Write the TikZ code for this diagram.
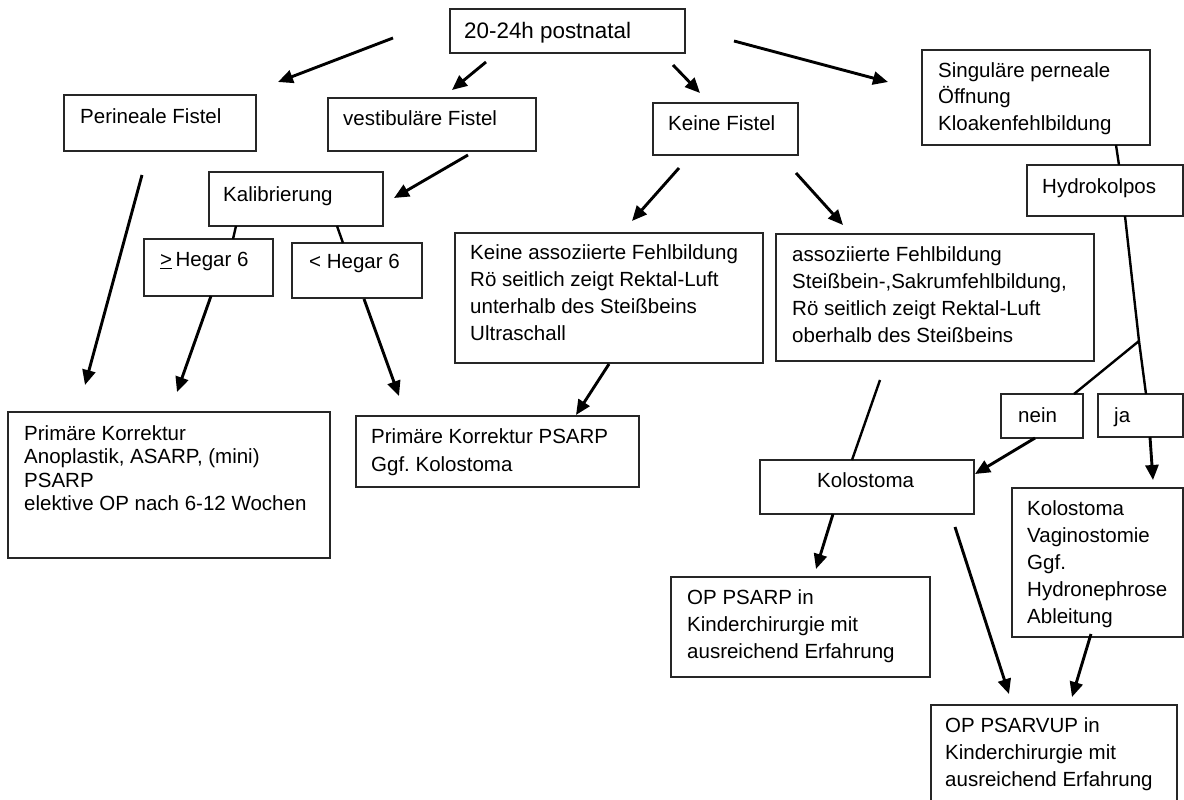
\documentclass[tikz,border=0pt]{standalone}
\usepackage{fontspec}
\setmainfont{Liberation Sans}
\usetikzlibrary{arrows.meta,fit}
\frenchspacing
\begin{document}
\begin{tikzpicture}[x=1pt,y=-1pt,
  box/.style={draw=black!85, line width=1.3pt, inner sep=0pt},
  txt/.style={anchor=north west, inner sep=0pt, align=left, text=black,
    font=\fontsize{20.5}{27}\selectfont},
  arr/.style={line width=2.9pt, -{Triangle[length=15pt,width=13pt]}},
  ln/.style={line width=2.4pt}]
\useasboundingbox (0,0) rectangle (1184,800);
\fill[white] (0,0) rectangle (1184,800);

% boxes
\node[box, fit={(450,9) (685,53)}] (b20) {};
\node[box, fit={(64,95) (256,151)}] (perin) {};
\node[box, fit={(328,98) (536,151)}] (vest) {};
\node[box, fit={(209,172) (383,226)}] (kal) {};
\node[box, fit={(144,239) (273,296)}] (hge) {};
\node[box, fit={(292,243) (422,298)}] (hlt) {};
\node[box, fit={(653,103) (798,155)}] (kf) {};
\node[box, fit={(922,50) (1150,145)}] (sing) {};
\node[box, fit={(1027,165) (1183,216)}] (hydro) {};
\node[box, fit={(455,233) (763,363)}] (kaf) {};
\node[box, fit={(776,234) (1094,361)}] (af) {};
\node[box, fit={(8,412) (330,558)}] (pk) {};
\node[box, fit={(356,416) (639,487)}] (pkp) {};
\node[box, fit={(1001,394) (1083,438)}] (nein) {};
\node[box, fit={(1098,394) (1183,437)}] (ja) {};
\node[box, fit={(760,460) (974,514)}] (kol) {};
\node[box, fit={(1012,488) (1183,637)}] (kolv) {};
\node[box, fit={(671,577) (930,677)}] (opp) {};
\node[box, fit={(931,705) (1177,803)}] (oppv) {};

% texts
\node[txt, font=\fontsize{22.4}{27}\selectfont] (t20) at (464,22.5) {20-24h postnatal};
\node[txt] (tperin) at (80,108) {Perineale Fistel};
\node[txt] (tvest) at (343,110) {vestibuläre Fistel};
\node[txt] (tkal) at (223,186) {Kalibrierung};
\node[txt] (thge) at (160,252) {\underline{>}\,Hegar 6};
\node[txt] (thlt) at (309,254) {< Hegar 6};
\node[txt] (tkf) at (668,115) {Keine Fistel};
\node[txt, font=\fontsize{20.5}{26.5}\selectfont] (tsing) at (938,62) {Singuläre perneale\\Öffnung\\Kloakenfehlbildung};
\node[txt] (thydro) at (1042,178) {Hydrokolpos};
\node[txt] (tkaf) at (470,244) {Keine assoziierte Fehlbildung\\Rö seitlich zeigt Rektal-Luft\\unterhalb des Steißbeins\\Ultraschall};
\node[txt] (taf) at (792,246) {assoziierte Fehlbildung\\Steißbein-,Sakrumfehlbildung,\\Rö seitlich zeigt Rektal-Luft\\oberhalb des Steißbeins};
\node[txt, font=\fontsize{20.5}{23.5}\selectfont] (tpk) at (24,425) {Primäre Korrektur\\Anoplastik, ASARP, (mini)\\PSARP\\elektive OP nach 6-12 Wochen};
\node[txt, font=\fontsize{20.5}{28}\selectfont] (tpkp) at (371,428) {Primäre Korrektur PSARP\\Ggf. Kolostoma};
\node[txt] (tnein) at (1018,407) {nein};
\node[txt] (tja) at (1114,407) {ja};
\node[txt] (tkol) at (817,472) {Kolostoma};
\node[txt] (tkolv) at (1027,500) {Kolostoma\\Vaginostomie\\Ggf.\\Hydronephrose\\Ableitung};
\node[txt] (topp) at (687,589) {OP PSARP in\\Kinderchirurgie mit\\ausreichend Erfahrung};
\node[txt] (toppv) at (945,717) {OP PSARVUP in\\Kinderchirurgie mit\\ausreichend Erfahrung};

% connector end points
\coordinate (a1s) at (393,38);   \coordinate (a1e) at (278,82);
\coordinate (a2s) at (486,62);   \coordinate (a2e) at (452,90);
\coordinate (a3s) at (673,65);   \coordinate (a3e) at (700,93);
\coordinate (a4s) at (734,41);   \coordinate (a4e) at (888,82);
\coordinate (a5s) at (468,155);  \coordinate (a5e) at (394,198);
\coordinate (a6s) at (142,175);  \coordinate (a6e) at (85,385);
\coordinate (l1s) at (236,226);  \coordinate (l1e) at (233,239);
\coordinate (l2s) at (337,226);  \coordinate (l2e) at (343,243);
\coordinate (a7s) at (211,296);  \coordinate (a7e) at (177,392);
\coordinate (a8s) at (364,299);  \coordinate (a8e) at (399,396);
\coordinate (a9s) at (679,168);  \coordinate (a9e) at (632,221);
\coordinate (a10s) at (796,173); \coordinate (a10e) at (843,225);
\coordinate (a11s) at (609,364); \coordinate (a11e) at (576,415);
\coordinate (l3s) at (1116,145); \coordinate (l3e) at (1119,165);
\coordinate (l4s) at (1125,216); \coordinate (br) at (1139,341); \coordinate (l4e) at (1146,394);
\coordinate (l5e) at (1074,394);
\coordinate (a12s) at (1035,438); \coordinate (a12e) at (975,474);
\coordinate (a13s) at (1150,437); \coordinate (a13e) at (1153,480);
\coordinate (l6s) at (880,380);  \coordinate (l6e) at (852,460);
\coordinate (a14s) at (833,514); \coordinate (a14e) at (816,569);
\coordinate (a15s) at (955,527); \coordinate (a15e) at (1009,694);
\coordinate (a16s) at (1091,634); \coordinate (a16e) at (1072,697);

% connectors
\draw[arr] (a1s) -- (a1e);
\draw[arr] (a2s) -- (a2e);
\draw[arr] (a3s) -- (a3e);
\draw[arr] (a4s) -- (a4e);
\draw[arr] (a5s) -- (a5e);
\draw[arr] (a6s) -- (a6e);
\draw[ln] (l1s) -- (l1e);
\draw[ln] (l2s) -- (l2e);
\draw[arr] (a7s) -- (a7e);
\draw[arr] (a8s) -- (a8e);
\draw[arr] (a9s) -- (a9e);
\draw[arr] (a10s) -- (a10e);
\draw[arr] (a11s) -- (a11e);
\draw[ln] (l3s) -- (l3e);
\draw[ln] (l4s) -- (br) -- (l4e);
\draw[ln] (br) -- (l5e);
\draw[arr] (a12s) -- (a12e);
\draw[arr] (a13s) -- (a13e);
\draw[ln] (l6s) -- (l6e);
\draw[arr] (a14s) -- (a14e);
\draw[arr] (a15s) -- (a15e);
\draw[arr] (a16s) -- (a16e);
\end{tikzpicture}
\end{document}
